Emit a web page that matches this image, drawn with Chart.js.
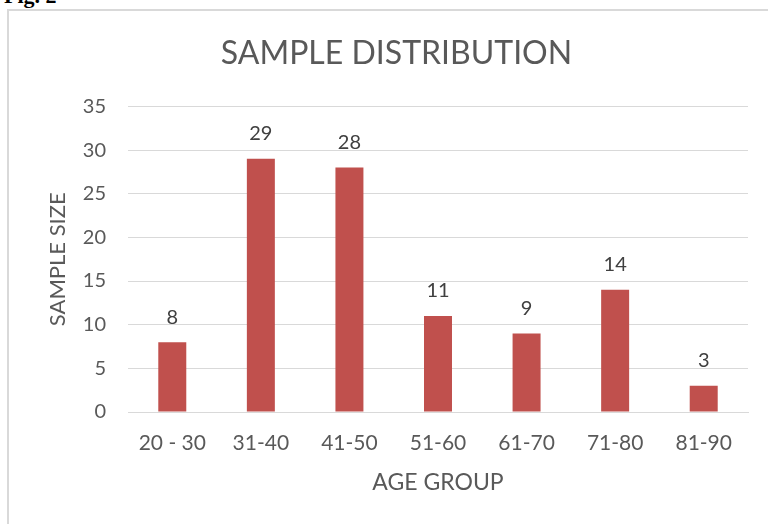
<!DOCTYPE html>
<html>
<head>
<meta charset="utf-8">
<script src="https://cdn.jsdelivr.net/npm/chart.js@4"></script>
<style>
  html, body { margin: 0; padding: 0; background: #fff; }
  body { width: 768px; height: 524px; position: relative; overflow: hidden; }
  #fig { position: absolute; left: 4px; top: -17px; font: bold 22px "Liberation Serif", serif; color: #000; }
  #frame { position: absolute; left: 7px; top: 9px; width: 800px; height: 600px; border: 2px solid #d9d9d9; box-sizing: border-box; }
  #wrap { position: absolute; left: 0; top: 0; width: 768px; height: 524px; }
</style>
</head>
<body>
<div id="fig">Fig. 2</div>
<div id="frame"></div>
<div id="wrap"><canvas id="chart" width="768" height="524"></canvas></div>
<script>
const ageGroups = ["20 - 30", "31-40", "41-50", "51-60", "61-70", "71-80", "81-90"];
const sampleSize = [8, 29, 28, 11, 9, 14, 3];
const yTicks = [0, 5, 10, 15, 20, 25, 30, 35];

const FONT = "Lato, 'Open Sans', sans-serif";
const TEXT = "#595959";

// value labels over each bar
const barLabels = {
  id: "barLabels",
  afterDatasetsDraw(chart) {
    const ctx = chart.ctx;
    const meta = chart.getDatasetMeta(0);
    ctx.save();
    ctx.font = "20px " + FONT;
    ctx.fillStyle = "#404040";
    ctx.textAlign = "center";
    ctx.textBaseline = "middle";
    meta.data.forEach((bar, i) => {
      ctx.fillText(String(sampleSize[i]), bar.x, bar.y - 25);
    });
    ctx.restore();
  }
};

const ctx = document.getElementById("chart").getContext("2d");
new Chart(ctx, {
  type: "bar",
  data: {
    labels: ageGroups,
    datasets: [{
      label: "Sample size",
      data: sampleSize,
      backgroundColor: "#C0504D",
      barPercentage: 0.316,
      categoryPercentage: 1
    }]
  },
  options: {
    responsive: false,
    animation: false,
    layout: { padding: { left: 45, right: 20, top: 0, bottom: 0 } },
    plugins: {
      legend: { display: false },
      tooltip: { enabled: false },
      title: {
        display: true,
        text: "SAMPLE DISTRIBUTION",
        color: TEXT,
        font: { family: FONT, size: 32, weight: "normal" },
        padding: { top: 34, bottom: 34 }
      }
    },
    scales: {
      x: {
        afterFit(scale) { scale.height = 112; },
        grid: { display: false, drawTicks: false },
        border: { color: "#d9d9d9", width: 1 },
        ticks: { color: TEXT, font: { family: FONT, size: 21 }, padding: 19 },
        title: {
          display: true,
          text: "AGE GROUP",
          color: TEXT,
          font: { family: FONT, size: 23 },
          padding: { top: 0, bottom: 28 }
        }
      },
      y: {
        min: 0,
        max: 35,
        afterBuildTicks(scale) {
          scale.ticks = yTicks.map(v => ({ value: v }));
        },
        afterFit(scale) { scale.width = 83; },
        grid: { color: "#d9d9d9", drawTicks: false },
        border: { display: false },
        ticks: { color: TEXT, font: { family: FONT, size: 20 }, padding: 22 },
        title: {
          display: true,
          text: "SAMPLE SIZE",
          color: TEXT,
          font: { family: FONT, size: 22 },
          padding: { top: 0, bottom: 0 }
        }
      }
    }
  },
  plugins: [barLabels]
});
</script>
</body>
</html>
